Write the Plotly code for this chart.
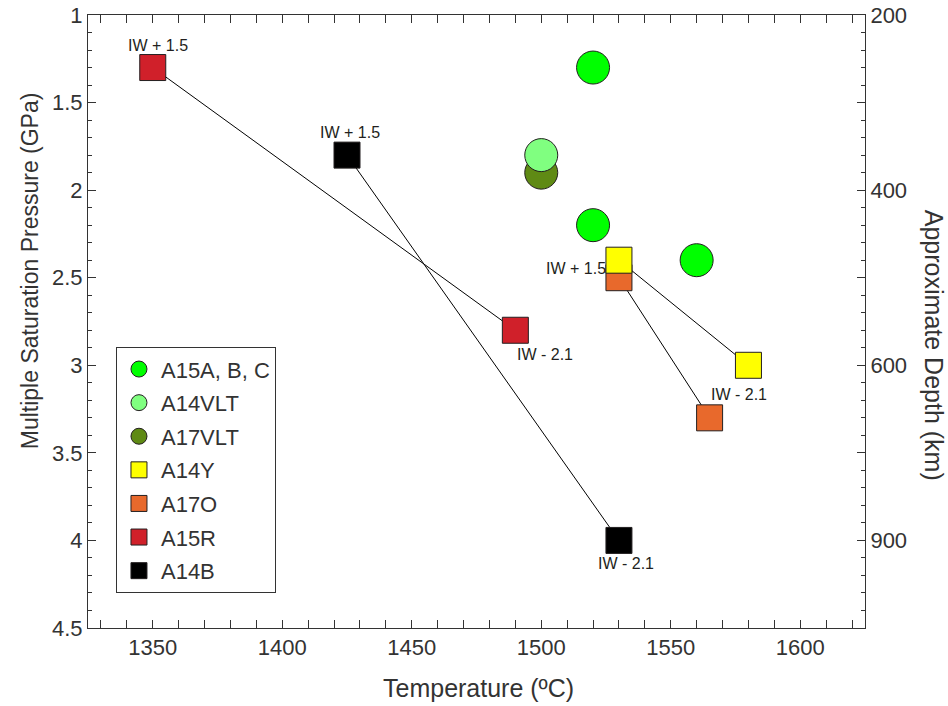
import plotly.graph_objects as go

# Multiple saturation temperatures (deg C) and pressures (GPa) per sample group
temp_A15ABC = [1520, 1520, 1560]
press_A15ABC = [1.3, 2.2, 2.4]
temp_A14VLT = [1500]
press_A14VLT = [1.8]
temp_A17VLT = [1500]
press_A17VLT = [1.9]
temp_A14Y = [1530, 1580]
press_A14Y = [2.4, 3.0]
temp_A17O = [1530, 1565]
press_A17O = [2.5, 3.3]
temp_A15R = [1350, 1490]
press_A15R = [1.3, 2.8]
temp_A14B = [1425, 1530]
press_A14B = [1.8, 4.0]

# Oxygen fugacity labels for the oxidised / reduced end of each pair
fo2_labels = ["IW + 1.5", "IW - 2.1"]

# Depth axis: pressure (GPa) -> approximate depth (km); half-GPa ticks unlabeled
depth_gpa = [1, 1.5, 2, 2.5, 3, 3.5, 4, 4.5]
depth_km = ["200", "", "400", "", "600", "", "900", ""]

FONT = "Liberation Sans, Arial, sans-serif"
INK = "#231F20"
AXIS = "#333333"

fig = go.Figure()

# connecting lines for the paired experiments (beneath the markers)
for tx, py in [(temp_A15R, press_A15R), (temp_A14B, press_A14B),
               (temp_A17O, press_A17O), (temp_A14Y, press_A14Y)]:
    fig.add_trace(go.Scatter(x=tx, y=py, mode="lines",
                             line=dict(color="black", width=1),
                             showlegend=False, hoverinfo="skip"))

circle = dict(symbol="circle", size=33, line=dict(color=INK, width=1))
square = dict(symbol="square", size=26, line=dict(color=INK, width=1))

series = [
    # name, x, y, colour, marker style, legend rank
    ("A15A, B, C", temp_A15ABC, press_A15ABC, "#00FF00", circle, 1),
    ("A17VLT", temp_A17VLT, press_A17VLT, "#5F8A14", circle, 3),
    ("A14VLT", temp_A14VLT, press_A14VLT, "#80FF80", circle, 2),
    ("A17O", temp_A17O, press_A17O, "#E8692C", square, 5),
    ("A14Y", temp_A14Y, press_A14Y, "#FFFF00", square, 4),
    ("A15R", temp_A15R, press_A15R, "#D0202A", square, 6),
    ("A14B", temp_A14B, press_A14B, "#000000", square, 7),
]
for name, tx, py, col, mk, rank in series:
    fig.add_trace(go.Scatter(x=tx, y=py, mode="markers", name=name,
                             marker=dict(color=col, **mk),
                             legendrank=rank, legendgroup=name))

# invisible trace that carries the secondary (depth) axis
fig.add_trace(go.Scatter(x=[None], y=[None], yaxis="y2", showlegend=False,
                         hoverinfo="skip"))

# fO2 labels next to the paired experiments
label_specs = [
    (temp_A15R[0], press_A15R[0], fo2_labels[0], "center", 5, 22),
    (temp_A14B[0], press_A14B[0], fo2_labels[0], "center", 3, 23),
    (temp_A14Y[0], press_A14Y[0], fo2_labels[0], "right", -11, -8),
    (temp_A15R[1], press_A15R[1], fo2_labels[1], "left", 0, -24),
    (temp_A14Y[1], press_A14Y[1], fo2_labels[1], "center", -9, -29),
    (temp_A14B[1], press_A14B[1], fo2_labels[1], "center", 7, -23),
]
for x, y, txt, anchor, dx, dy in label_specs:
    fig.add_annotation(x=x, y=y, text=txt, showarrow=False, xanchor=anchor,
                       yanchor="middle", xshift=dx, yshift=dy,
                       font=dict(family=FONT, size=16, color=INK))

# axis titles
fig.add_annotation(xref="paper", yref="paper", x=0.503, y=0, yshift=-60,
                   text="Temperature (ºC)", showarrow=False,
                   xanchor="center", yanchor="middle",
                   font=dict(family=FONT, size=25, color=AXIS))
fig.add_annotation(xref="paper", yref="paper", x=0, xshift=-58, y=0.582,
                   text="Multiple Saturation Pressure (GPa)", showarrow=False,
                   textangle=-90, xanchor="center", yanchor="middle",
                   font=dict(family=FONT, size=23, color=AXIS))
fig.add_annotation(xref="paper", yref="paper", x=1, xshift=69, y=0.462,
                   text="Approximate Depth (km)", showarrow=False,
                   textangle=90, xanchor="center", yanchor="middle",
                   font=dict(family=FONT, size=25, color=AXIS))

tickfont = dict(family=FONT, size=22, color=AXIS)
common = dict(showgrid=False, zeroline=False, showline=True, linecolor=AXIS,
              linewidth=1, ticks="inside", ticklen=8, tickcolor=AXIS,
              tickfont=tickfont, automargin=False)

fig.update_layout(
    width=948, height=706,
    margin=dict(l=88, r=83, t=15, b=78, autoexpand=False),
    paper_bgcolor="white", plot_bgcolor="white",
    font=dict(family=FONT, color=AXIS),
    xaxis=dict(range=[1325, 1625], tick0=1350, dtick=50, mirror="allticks",
               minor=dict(dtick=10, ticks="inside", ticklen=4,
                          tickcolor=AXIS),
               **common),
    yaxis=dict(range=[4.5, 1], tick0=1, dtick=0.5,
               minor=dict(dtick=0.1, ticks="inside", ticklen=4,
                          tickcolor=AXIS),
               **common),
    yaxis2=dict(range=[4.5, 1], overlaying="y", side="right", anchor="x",
                tickmode="array", tickvals=depth_gpa, ticktext=depth_km,
                minor=dict(tick0=1, dtick=0.1, ticks="inside", ticklen=4,
                           tickcolor=AXIS),
                **common),
    legend=dict(x=0.036, y=0.458, xanchor="left", yanchor="top",
                bordercolor=AXIS, borderwidth=1, bgcolor="white",
                font=dict(family=FONT, size=22, color=AXIS),
                traceorder="grouped", tracegroupgap=2, itemwidth=34),
    showlegend=True,
)

fig.write_html("out.html")
